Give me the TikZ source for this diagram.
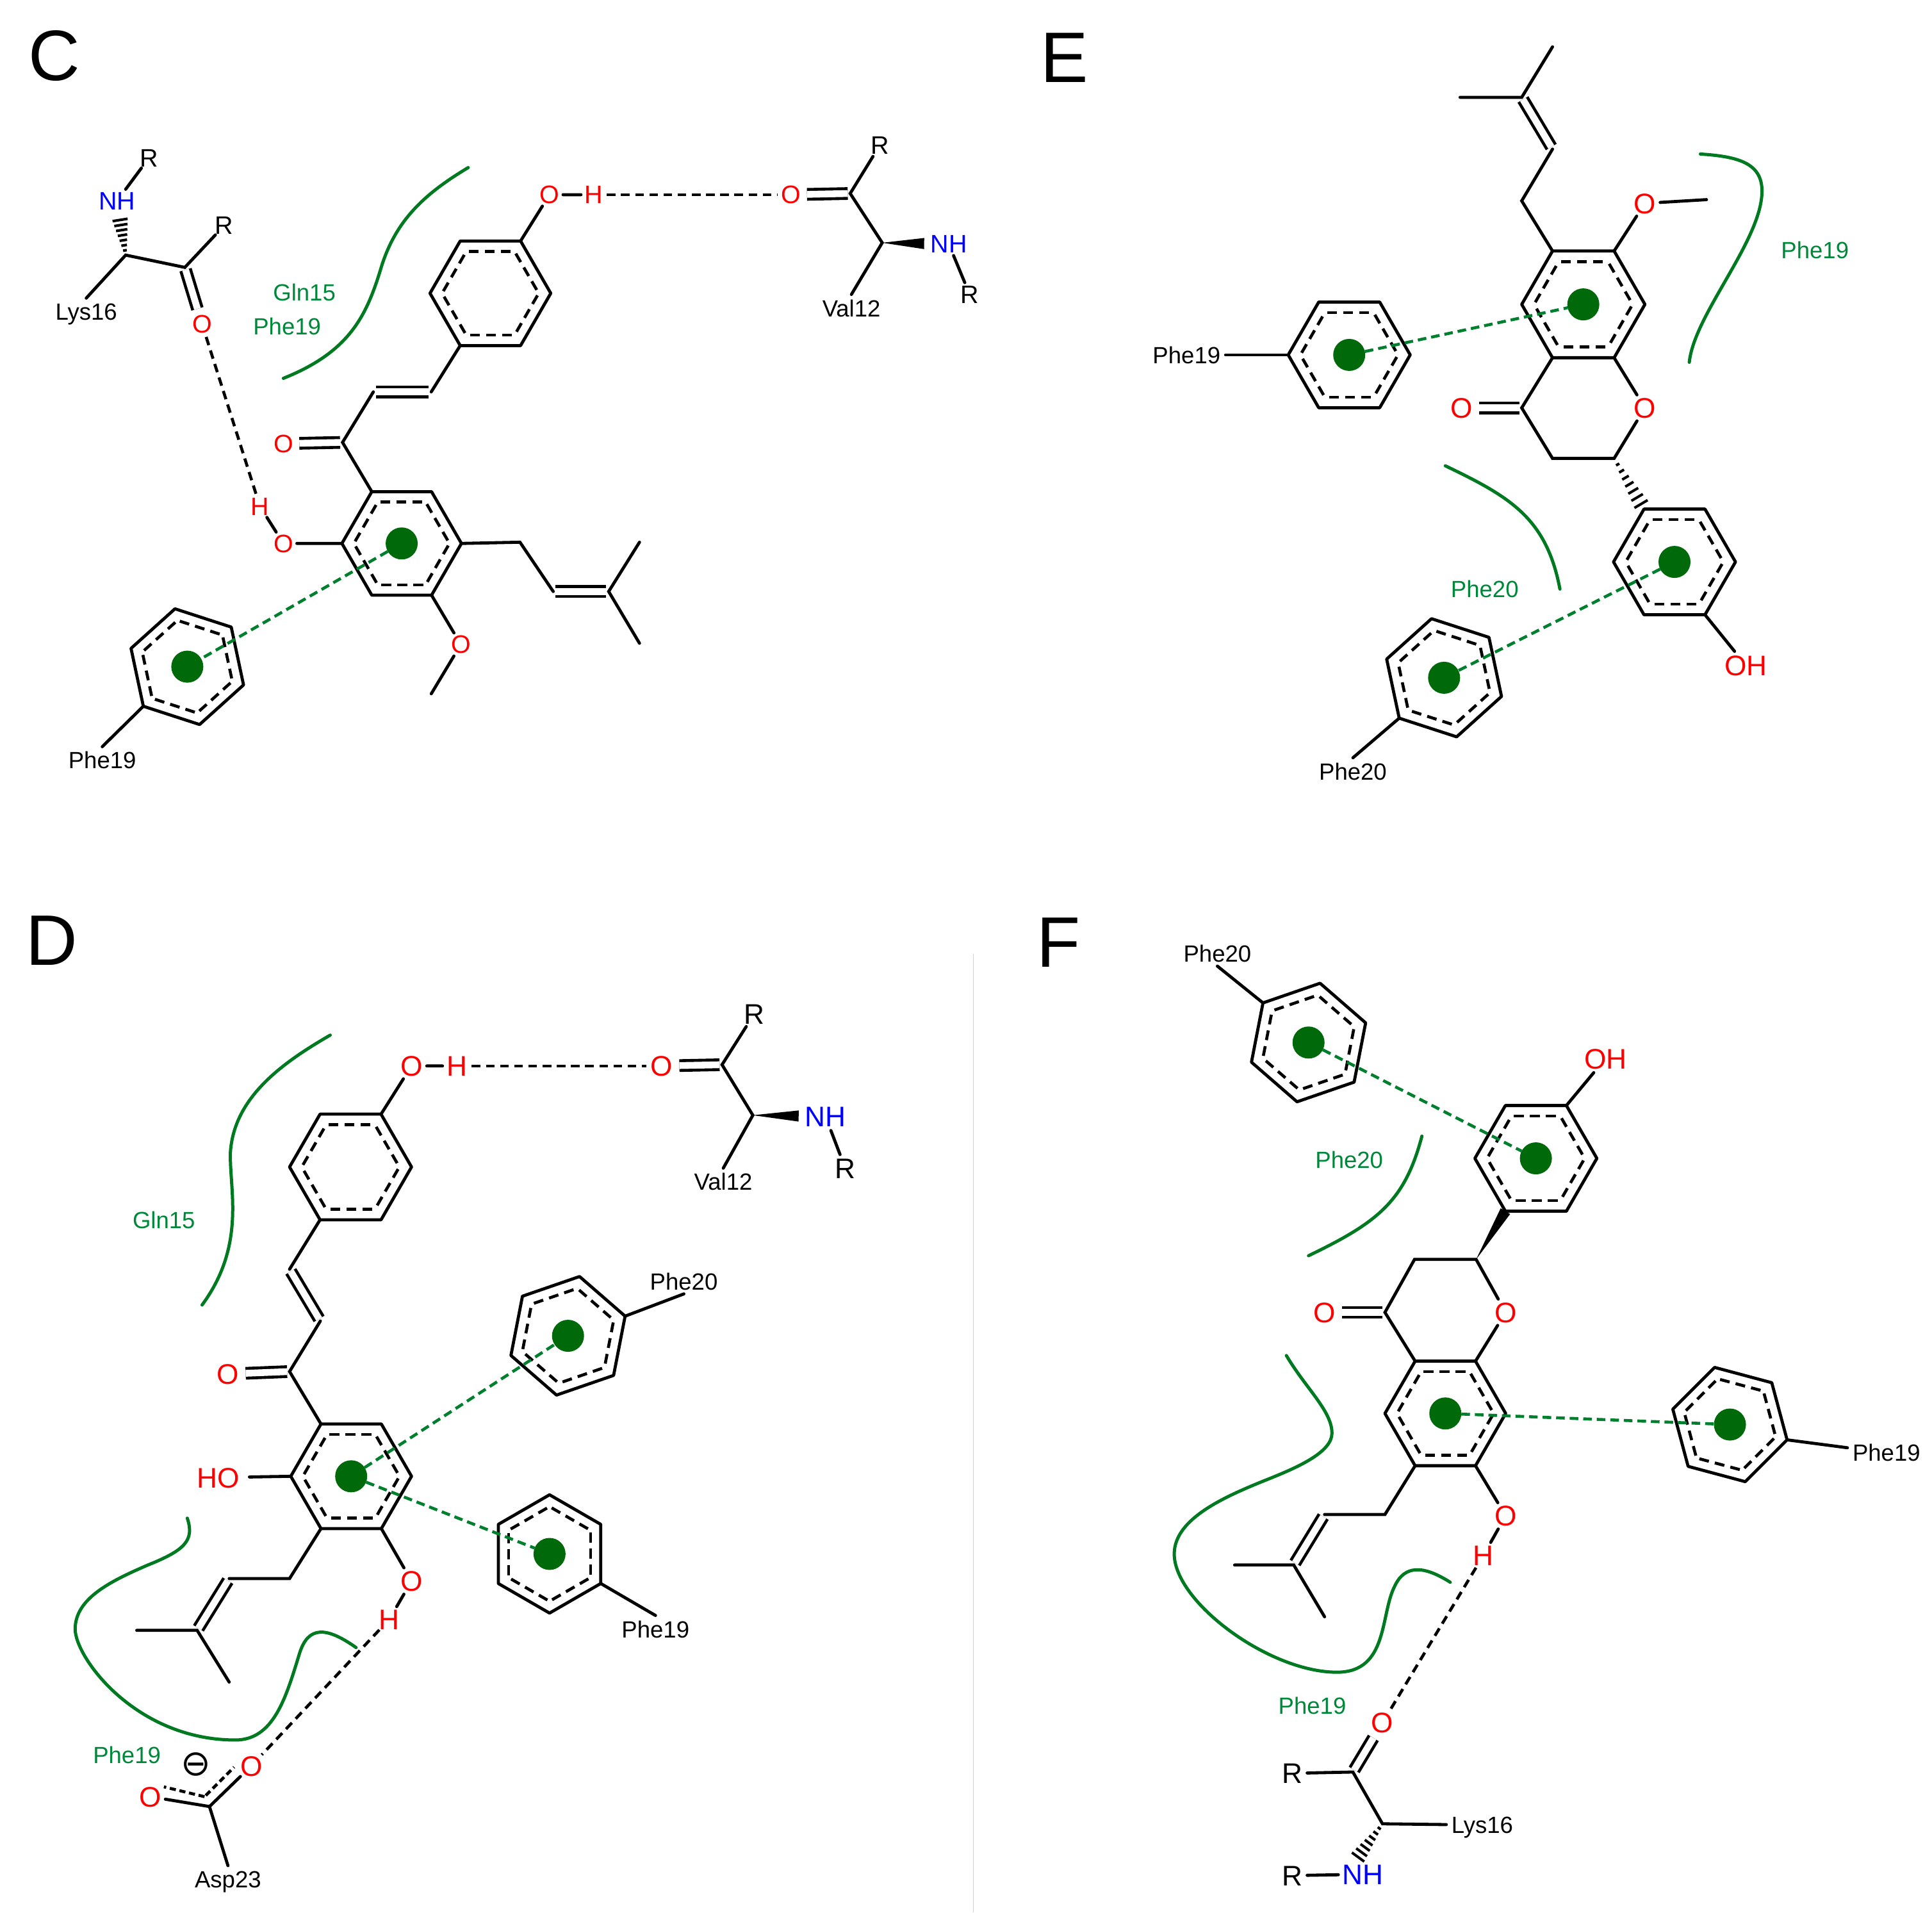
\documentclass[tikz,border=0pt]{standalone}
\usepackage{fontspec}
\setmainfont{Liberation Sans}
\newfontfamily\dejavu{DejaVu Sans}
\usetikzlibrary{calc}
\definecolor{curvegreen}{HTML}{007A20}
\definecolor{textgreen}{HTML}{00883A}
\definecolor{dotgreen}{HTML}{006A0A}
\definecolor{pigreen}{HTML}{007F2E}
\definecolor{atomred}{HTML}{FF0000}
\definecolor{atomblue}{HTML}{0000FF}
\tikzset{
  bond/.style={line width=2.5pt,black,line cap=round},
  dbl/.style={line width=2.4pt,black,double,double distance=5.5pt,shorten <=2pt,shorten >=2pt},
  inner/.style={line width=2.4pt,black,dash pattern=on 8pt off 5pt,shorten <=2pt,shorten >=2pt},
  hb/.style={line width=2.4pt,black,dash pattern=on 7pt off 4.5pt},
  smalldash/.style={line width=2.4pt,black,dash pattern=on 5pt off 3pt},
  pi/.style={line width=2.4pt,pigreen,dash pattern=on 7pt off 4pt},
  curve/.style={line width=2.6pt,curvegreen,line cap=round},
  dotn/.style={circle,fill=dotgreen,draw=none,inner sep=0,minimum size=26pt,outer sep=0},
  oxC/.style={circle,inner sep=0,text height=14.4pt,text depth=0pt,text=atomred,font=\fontsize{20.5}{20.5}\selectfont},
  rC/.style={circle,inner sep=0,text height=14.4pt,text depth=0pt,text=black,font=\fontsize{20.5}{20.5}\selectfont},
  nhC/.style={rectangle,inner sep=2pt,text height=14.4pt,text depth=0pt,text=atomblue,font=\fontsize{20.5}{20.5}\selectfont},
  ox/.style={circle,inner sep=0,text height=16.5pt,text depth=0pt,text=atomred,font=\fontsize{23}{23}\selectfont},
  rr/.style={circle,inner sep=0,text height=16.5pt,text depth=0pt,text=black,font=\fontsize{23}{23}\selectfont},
  nh/.style={rectangle,inner sep=3pt,text height=16.5pt,text depth=0pt,text=atomblue,font=\fontsize{23}{23}\selectfont},
  oh/.style={rectangle,inner sep=3pt,text height=16.5pt,text depth=0pt,text=atomred,font=\fontsize{23}{23}\selectfont},
  res/.style={rectangle,inner sep=4pt,text height=13.7pt,text depth=0pt,text=black,font=\fontsize{19}{19}\selectfont},
  gres/.style={rectangle,inner sep=0pt,text height=13.7pt,text depth=0pt,text=textgreen,font=\fontsize{19}{19}\selectfont},
  panel/.style={rectangle,inner sep=0pt,text height=40pt,text depth=0pt,text=black,font=\fontsize{58}{58}\selectfont},
  minusn/.style={inner sep=0pt,text=black,font=\dejavu\fontsize{29}{29}\selectfont},
}
% ring: name, cx, cy, radius, rotation. Vertices 1..6 run clockwise on the page from the rotation angle
\newcommand\ringx[5]{%
  \coordinate (#1) at (#2,#3);
  \foreach \k in {1,...,6}{\coordinate (#1\k) at ($(#1)+({#5+60*(\k-1)}:#4)$);}
  \draw[bond,line join=round] (#11)--(#12)--(#13)--(#14)--(#15)--(#16)--cycle;
  \foreach \k/\m in {1/2,2/3,3/4,4/5,5/6,6/1}{\draw[inner] ($(#1)!.8!(#1\k)$)--($(#1)!.8!(#1\m)$);}
}
\newcommand\hashx[3]{% narrow at #1, wide towards #2, up to fraction #3
  \foreach \t in {.12,.25,.38,.51,.64,.77,.90}{
    \pgfmathsetmacro\hw{.8+\t*6}
    \draw[line width=2.1pt] ($(#1)!\t*#3!(#2)!\hw pt!90:(#2)$)--($(#1)!\t*#3!(#2)!\hw pt!-90:(#2)$);
  }
}
\newcommand\wedgex[3]{% narrow at #1, wide towards #2, up to fraction #3
  \coordinate (wtip) at ($(#1)!#3!(#2)$);
  \fill[black] (#1)--($(wtip)!4.5pt!90:(#1)$)--($(wtip)!4.5pt!-90:(#1)$)--cycle;
}
\begin{document}
\begin{tikzpicture}[x=1pt,y=-1pt]
\useasboundingbox (0,0) rectangle (1568,1552);
\fill[white] (0,0) rectangle (1568,1552);
\coordinate (sepA) at (790,774);
\coordinate (sepB) at (790,1552);
\draw[line width=.9pt,black!18] (sepA)--(sepB);

\node[panel] (lC) at (44,45) {C};
\node[panel] (lD) at (42,763) {D};
\node[panel] (lE) at (864,47) {E};
\node[panel] (lF) at (859,765) {F};

% ---------- panel C ----------
\draw[curve] (380,136) .. controls (345,157) and (322,178) .. (310,215) .. controls (298,255) and (285,285) .. (230,307);
\node[gres] (CgG) at (247,237) {Gln15};
\node[gres] (CgP) at (233,265) {Phe19};
\ringx{CA}{398}{238}{49}{0}
\ringx{CB}{326}{441}{48.5}{0}
\ringx{CP}{152}{541}{48}{18}
\node[rC] (CR1) at (121,128) {R};
\node[nhC] (CN1) at (95,163) {NH};
\coordinate (Ca1) at (102,207);
\coordinate (CC1) at (150,217);
\node[rC] (CR2) at (182,183) {R};
\node[oxC] (CO1) at (164,263) {O};
\node[res] (CL1) at (70,253) {Lys16};
\draw[bond] (CN1)--(CR1);
\hashx{Ca1}{CN1}{.72}
\draw[bond] (CL1.north)--(Ca1)--(CC1)--(CR2);
\draw[dbl] (CC1)--(CO1);
\node[oxC] (COb) at (230,441) {O};
\node[oxC] (CHb) at (211,411) {H};
\draw[bond] (CB4)--(COb)--(CHb);
\draw[hb] (CO1)--(CHb);
\coordinate (CCo) at (278,359);
\node[oxC] (COc) at (230,360) {O};
\coordinate (CV1) at (303,318);
\coordinate (CV2) at (350,318);
\draw[bond] (CB5)--(CCo)--(CV1);
\draw[dbl] (CCo)--(COc);
\draw[dbl] (CV1)--(CV2);
\draw[bond] (CV2)--(CA3);
\node[oxC] (COa) at (446,158) {O};
\node[oxC] (CHa) at (482,158) {H};
\draw[bond] (CA6)--(COa)--(CHa);
\node[oxC] (COv) at (642,158) {O};
\draw[hb] (CHa)--(COv);
\coordinate (CCv) at (690,157);
\draw[dbl] (COv)--(CCv);
\node[rC] (CR3) at (714,118) {R};
\coordinate (CAv) at (716,197);
\node[res] (CL2) at (691,250) {Val12};
\node[nhC] (CN2) at (770,198) {NH};
\node[rC] (CR4) at (787,239) {R};
\draw[bond] (CR3)--(CCv)--(CAv)--(CL2.north);
\wedgex{CAv}{CN2}{.63}
\draw[bond] (CN2)--(CR4);
\coordinate (CP1a) at (422,440);
\coordinate (CP2a) at (449,480);
\coordinate (CP3a) at (494,480);
\coordinate (CP4a) at (519,440);
\coordinate (CP5a) at (519,522);
\draw[bond] (CB1)--(CP1a)--(CP2a);
\draw[dbl] (CP2a)--(CP3a);
\draw[bond] (CP4a)--(CP3a)--(CP5a);
\node[oxC] (COm) at (374,523) {O};
\coordinate (CMe) at (350,563);
\draw[bond] (CB2)--(COm)--(CMe);
\node[res] (CL3) at (83,617) {Phe19};
\draw[bond] (CP3)--(CL3.north);
\node[dotn] (CdB) at (CB) {};
\node[dotn] (CdP) at (CP) {};
\draw[pi] (CdB)--(CdP);

% ---------- panel D ----------
\draw[curve] (268,840) .. controls (230,862) and (190,890) .. (187,935) .. controls (186,965) and (200,1010) .. (164,1059);
\node[gres] (DgG) at (133,990) {Gln15};
\draw[curve] (152,1232) .. controls (158,1250) and (150,1258) .. (120,1270) .. controls (90,1283) and (61,1297) .. (61,1322) .. controls (61,1345) and (110,1412) .. (191,1412) .. controls (222,1412) and (232,1378) .. (243,1342) .. controls (250,1319) and (265,1320) .. (289,1337);
\node[gres] (DgP) at (103,1424) {Phe19};
\ringx{DA}{284.5}{947}{49.5}{0}
\ringx{DB}{285}{1198}{49}{0}
\ringx{DP}{461}{1084}{49}{-19}
\ringx{DQ}{446}{1261}{48}{30}
\node[ox] (DOa) at (334,865) {O};
\node[ox] (DHa) at (371,865) {H};
\draw[bond] (DA6)--(DOa)--(DHa);
\node[ox] (DOv) at (537,865) {O};
\draw[hb] (DHa)--(DOv);
\coordinate (DCv) at (586,864);
\draw[dbl] (DOv)--(DCv);
\node[rr] (DR1) at (612,823) {R};
\coordinate (DAv) at (611,905);
\node[res] (DL1) at (587,959) {Val12};
\node[nh] (DN1) at (670,906) {NH};
\node[rr] (DR2) at (686,948) {R};
\draw[bond] (DR1)--(DCv)--(DAv)--(DL1.north);
\wedgex{DAv}{DN1}{.63}
\draw[bond] (DN1)--(DR2);
\coordinate (DV1) at (235,1030);
\coordinate (DV2) at (260,1072);
\coordinate (DCo) at (235,1113);
\node[ox] (DOc) at (185,1115) {O};
\draw[bond] (DA3)--(DV1);
\draw[dbl] (DV1)--(DV2);
\draw[bond] (DV2)--(DCo)--(DB5);
\draw[dbl] (DCo)--(DOc);
\node[oh] (DHO) at (177,1199) {HO};
\draw[bond,shorten >=5pt] (DB4)--(DHO);
\coordinate (DP1a) at (235,1281);
\coordinate (DP2a) at (186,1281);
\coordinate (DP3a) at (160,1323);
\coordinate (DP4a) at (111,1323);
\coordinate (DP5a) at (186,1365);
\draw[bond] (DB3)--(DP1a)--(DP2a);
\draw[dbl] (DP2a)--(DP3a);
\draw[bond] (DP4a)--(DP3a)--(DP5a);
\node[ox] (DOb) at (334,1283) {O};
\node[ox] (DHb) at (316,1314) {H};
\draw[bond] (DB2)--(DOb)--(DHb);
\node[ox] (DOd) at (204,1433) {O};
\node[ox] (DOe) at (122,1458) {O};
\coordinate (DCa) at (170,1466);
\node[res] (DL2) at (185,1525) {Asp23};
\draw[hb] (DHb)--(DOd);
\draw[bond] (DOe)--(DCa)--(DOd);
\draw[bond] (DCa)--(DL2.north);
\coordinate (DdA) at (167,1457);
\coordinate (DdB) at (190,1434);
\coordinate (DdC) at (166,1458);
\coordinate (DdD) at (133,1450);
\draw[smalldash] (DdA)--(DdB);
\draw[smalldash] (DdC)--(DdD);
\node[minusn] (Dmin) at (159,1432) {⊖};
\node[res] (DL3) at (555,1040) {Phe20};
\coordinate (DPb) at (555,1050);
\draw[bond] (DP1)--(DPb);
\node[res] (DL4) at (532,1322) {Phe19};
\draw[bond] (DQ1)--(DL4.north);
\node[dotn] (DdBn) at (DB) {};
\node[dotn] (DdPn) at (DP) {};
\node[dotn] (DdQn) at (DQ) {};
\draw[pi] (DdBn)--(DdPn);
\draw[pi] (DdBn)--(DdQn);

% ---------- panel E ----------
\draw[curve] (1380,125) .. controls (1410,127) and (1430,132) .. (1430,155) .. controls (1430,195) and (1375,255) .. (1371,294);
\draw[curve] (1173,378) .. controls (1225,403) and (1255,420) .. (1266,478);
\node[gres] (EgP) at (1473,203) {Phe19};
\node[gres] (EgQ) at (1205,478) {Phe20};
\ringx{EA}{1285}{247}{50}{0}
\ringx{EB}{1359}{456}{49.5}{0}
\ringx{EP}{1095}{288}{49.5}{0}
\ringx{EQ}{1172}{550}{49}{18}
\coordinate (EV1) at (1235,163);
\coordinate (EV2) at (1260,121);
\coordinate (EV3) at (1235,79);
\coordinate (EV4) at (1185,79);
\coordinate (EV5) at (1260,38);
\draw[bond] (EA5)--(EV1)--(EV2);
\draw[dbl] (EV2)--(EV3);
\draw[bond] (EV4)--(EV3)--(EV5);
\node[ox] (EOm) at (1335,165) {O};
\coordinate (EMe) at (1385,162);
\draw[bond] (EA6)--(EOm)--(EMe);
\node[ox] (EOr) at (1335,331) {O};
\coordinate (ER1) at (1310,372);
\coordinate (ER2) at (1260,372);
\coordinate (ER3) at (1235,331);
\draw[bond] (EA2)--(EOr)--(ER1)--(ER2)--(ER3)--(EA3);
\node[ox] (EOc) at (1186,331) {O};
\draw[dbl] (ER3)--(EOc);
\hashx{ER1}{EB5}{1}
\node[oh] (EOH) at (1417,540) {OH};
\draw[bond] (EB2)--(EOH);
\node[res] (EL1) at (963,288) {Phe19};
\draw[bond] (EP4)--(EL1);
\node[res] (EL2) at (1098,626) {Phe20};
\draw[bond] (EQ3)--(EL2.north);
\node[dotn] (EdA) at (EA) {};
\node[dotn] (EdB) at (EB) {};
\node[dotn] (EdP) at (EP) {};
\node[dotn] (EdQ) at (EQ) {};
\draw[pi] (EdP)--(EdA);
\draw[pi] (EdB)--(EdQ);

% ---------- panel F ----------
\draw[curve] (1154,922) .. controls (1140,975) and (1118,992) .. (1062,1019);
\draw[curve] (1044,1100) .. controls (1060,1127) and (1081,1145) .. (1081,1163) .. controls (1081,1178) and (1055,1190) .. (1030,1200) .. controls (995,1214) and (953,1232) .. (953,1261) .. controls (953,1300) and (1030,1357) .. (1085,1357) .. controls (1127,1357) and (1120,1310) .. (1132,1287) .. controls (1140,1270) and (1155,1270) .. (1177,1284);
\node[gres] (FgQ) at (1095,941) {Phe20};
\node[gres] (FgP) at (1065,1384) {Phe19};
\ringx{FQ}{1062}{846}{49}{-19}
\ringx{FB}{1246.5}{940}{49.5}{0}
\ringx{FA}{1173}{1147}{49}{0}
\ringx{FP}{1404}{1156}{48}{15}
\node[res] (FL1) at (988,774) {Phe20};
\coordinate (FQb) at (988,784);
\draw[bond] (FQ5)--(FQb);
\node[oh] (FOH) at (1303,859) {OH};
\draw[bond] (FB6)--(FOH);
\coordinate (FR1) at (1198,1022);
\coordinate (FR2) at (1148,1022);
\coordinate (FR3) at (1124,1065);
\node[ox] (FOr) at (1222,1065) {O};
\node[ox] (FOc) at (1075,1065) {O};
\wedgex{FR1}{FB3}{1}
\draw[bond] (FA6)--(FOr)--(FR1)--(FR2)--(FR3)--(FA5);
\draw[dbl] (FR3)--(FOc);
\coordinate (FV1) at (1124,1229);
\coordinate (FV2) at (1075,1229);
\coordinate (FV3) at (1050,1270);
\coordinate (FV4) at (1002,1270);
\coordinate (FV5) at (1075,1312);
\draw[bond] (FA3)--(FV1)--(FV2);
\draw[dbl] (FV2)--(FV3);
\draw[bond] (FV4)--(FV3)--(FV5);
\node[ox] (FOb) at (1222,1230) {O};
\node[ox] (FHb) at (1204,1262) {H};
\draw[bond] (FA2)--(FOb)--(FHb);
\node[ox] (FOd) at (1122,1398) {O};
\draw[hb] (FHb)--(FOd);
\coordinate (FCd) at (1098,1438);
\draw[dbl] (FCd)--(FOd);
\node[rr] (FR4) at (1049,1439) {R};
\coordinate (FCa) at (1122,1480);
\node[res] (FL2) at (1203,1481) {Lys16};
\node[nh] (FN) at (1106,1521) {NH};
\coordinate (FNh) at (1100,1510);
\node[rr] (FR5) at (1049,1522) {R};
\draw[bond] (FR4)--(FCd)--(FCa)--(FL2);
\hashx{FCa}{FNh}{1}
\draw[bond] (FR5)--(FN);
\node[res] (FL3) at (1531,1179) {Phe19};
\draw[bond] (FP1)--(FL3);
\node[dotn] (FdQ) at (FQ) {};
\node[dotn] (FdB) at (FB) {};
\node[dotn] (FdA) at (FA) {};
\node[dotn] (FdP) at (FP) {};
\draw[pi] (FdQ)--(FdB);
\draw[pi] (FdA)--(FdP);
\end{tikzpicture}
\end{document}
